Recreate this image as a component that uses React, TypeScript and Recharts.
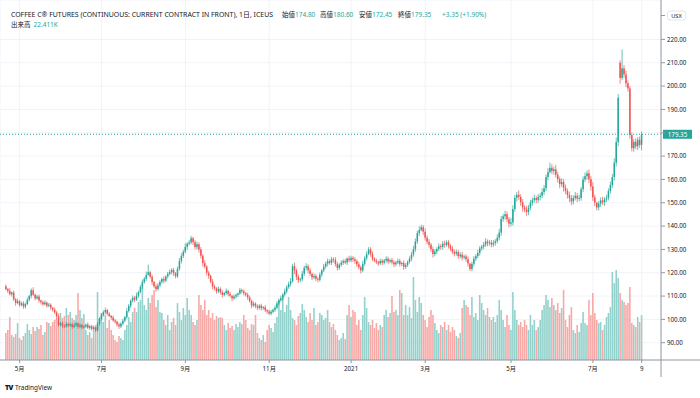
import { Bar, CartesianGrid, ComposedChart, ReferenceLine, XAxis, YAxis } from "recharts"

const UP = "#26a69a"
const DOWN = "#ef5350"
const UP_VOL = "#93d2cc"
const DOWN_VOL = "#f7a9a7"
const GRID = "#f0f3fa"
const AXIS = "#9598a1"
const TEXT = "#131722"
const FONT = "'Noto Sans', 'Noto Sans CJK JP', sans-serif"

// daily closes, front month coffee, 22 Apr 2020 -> 9 Aug 2021
const closes = [
  113.0, 112.2, 110.8, 111.5, 108.6, 107.0, 107.8, 106.2, 106.9, 105.5,
  106.6, 108.4, 110.1, 112.5, 110.6, 109.0, 109.8, 108.1, 107.4, 106.5,
  107.2, 105.8, 106.3, 105.0, 104.2, 103.0, 101.3, 97.6, 98.4, 97.2,
  97.0, 98.1, 97.4, 98.0, 96.8, 97.5, 98.3, 96.9, 97.6, 96.5,
  96.9, 97.8, 96.4, 97.1, 95.9, 96.6, 95.3, 97.9, 100.2, 101.8,
  103.1, 104.0, 102.4, 101.5, 100.8, 99.6, 99.0, 97.8, 97.0, 98.2,
  99.4, 101.0, 103.6, 105.8, 108.0, 109.3, 108.5, 110.2, 111.8, 113.9,
  116.0, 117.4, 119.1, 120.2, 118.3, 116.0, 114.2, 113.0, 114.6, 116.1,
  117.3, 116.6, 118.4, 119.5, 120.3, 121.2, 119.8, 118.5, 121.6, 125.0,
  127.2, 129.0, 131.1, 132.4, 133.0, 134.8, 133.1, 131.0, 132.2, 130.0,
  127.3, 124.1, 122.6, 120.0, 118.7, 116.2, 114.1, 113.3, 112.0, 113.1,
  111.6, 110.5, 111.3, 112.2, 110.9, 110.1, 109.0, 109.8, 110.4, 111.1,
  112.6, 112.0, 111.2, 110.5, 109.5, 107.9, 106.0, 106.8, 105.7, 105.0,
  105.9, 104.8, 105.2, 104.0, 103.4, 102.5, 103.3, 104.1, 105.0, 106.9,
  108.2, 109.1, 110.6, 112.0, 113.8, 115.2, 116.3, 122.8, 121.0, 118.2,
  116.8, 117.2, 119.6, 122.1, 122.8, 121.0, 119.5, 118.0, 118.6, 117.4,
  117.0, 119.2, 121.0, 122.6, 123.9, 125.0, 124.2, 125.8, 125.5, 123.7,
  122.1, 123.4, 124.3, 125.0, 124.4, 126.1, 125.3, 126.4, 125.7, 125.0,
  123.6, 122.3, 121.0, 123.8, 126.2, 128.0, 130.0, 128.1, 126.0, 125.2,
  124.6, 124.0, 125.1, 124.3, 125.2, 126.0, 124.8, 125.4, 124.5, 123.6,
  124.4, 125.1, 123.7, 124.2, 122.5, 123.3, 124.6, 126.0, 127.8, 130.1,
  133.4, 137.0, 138.3, 139.5, 137.6, 135.0, 133.2, 132.0, 130.1, 128.0,
  129.1, 130.2, 131.4, 131.0, 132.5, 132.0, 133.1, 131.6, 130.3, 129.0,
  128.2, 128.9, 127.1, 127.8, 126.5, 127.0, 125.8, 124.0, 121.6, 123.8,
  126.0, 127.1, 128.5, 130.4, 131.2, 132.0, 133.4, 132.6, 133.0, 132.1,
  132.8, 133.5, 135.0, 137.2, 143.0, 144.2, 145.1, 142.9, 141.0, 141.6,
  147.3, 152.1, 153.4, 152.5, 150.2, 148.0, 147.1, 146.0, 147.9, 150.0,
  151.1, 152.0, 151.2, 152.4, 153.0, 154.6, 156.2, 161.0, 163.1, 165.0,
  163.6, 164.3, 162.0, 160.1, 158.0, 158.9, 156.4, 155.0, 153.3, 152.0,
  150.6, 152.1, 153.0, 151.8, 152.0, 155.8, 160.0, 161.4, 162.6, 160.1,
  157.0, 152.3, 150.1, 148.0, 149.6, 151.0, 150.2, 151.4, 152.0, 155.0,
  157.6, 161.0, 167.2, 176.0, 195.0, 203.5, 207.6, 205.0, 201.2, 199.0,
  179.0, 173.4, 176.1, 174.2, 177.0, 174.8, 179.35,
]

// how far each day's high went above the body
const upperWicks = [
  0.8, 0.5, 1.2, 0.4, 0.9, 0.6, 1.1, 0.5, 0.7, 0.9,
  0.6, 1.0, 0.4, 0.8, 1.3, 0.5, 0.7, 0.9, 0.4, 0.6,
  1.0, 0.5, 0.8, 0.6, 0.4, 0.9, 0.7, 1.2, 0.5, 0.8,
  0.6, 0.9, 0.4, 0.7, 0.5, 1.0, 0.6, 0.4, 0.8, 0.5,
  0.7, 0.4, 0.9, 0.5, 0.6, 0.8, 0.4, 1.0, 0.7, 0.9,
  0.8, 1.1, 0.5, 0.7, 0.4, 0.9, 0.6, 0.5, 0.8, 0.6,
  0.9, 0.5, 1.2, 0.8, 0.6, 1.0, 0.7, 1.3, 0.5, 0.9,
  1.1, 0.8, 1.4, 2.1, 0.6, 0.9, 0.5, 0.8, 1.0, 0.7,
  0.6, 1.2, 0.5, 0.9, 1.1, 0.7, 0.8, 0.5, 1.0, 1.3,
  1.2, 0.8, 1.5, 0.7, 1.0, 1.1, 0.6, 0.9, 1.2, 0.8,
  1.0, 0.7, 1.3, 0.6, 0.9, 0.5, 1.1, 0.8, 0.6, 1.0,
  0.7, 0.9, 0.5, 1.1, 0.6, 0.8, 0.4, 0.9, 0.7, 0.5,
  0.9, 0.6, 0.8, 0.5, 1.0, 0.7, 0.6, 0.9, 0.5, 0.8,
  0.6, 0.8, 0.5, 0.9, 0.4, 0.7, 0.8, 0.6, 1.0, 0.9,
  0.8, 1.1, 0.7, 1.2, 0.9, 1.0, 1.4, 1.0, 1.5, 0.8,
  1.1, 0.7, 1.2, 0.9, 1.3, 0.8, 1.0, 0.6, 1.1, 0.9,
  0.8, 1.0, 0.6, 1.2, 0.9, 1.1, 0.7, 1.0, 0.8, 1.2,
  0.9, 0.7, 1.1, 0.8, 1.0, 0.6, 1.2, 0.9, 0.7, 1.0,
  0.8, 1.1, 0.7, 1.3, 1.0, 1.2, 1.0, 0.9, 1.1, 0.7,
  0.9, 0.6, 1.0, 0.8, 0.7, 1.1, 0.9, 0.6, 1.0, 0.8,
  0.7, 1.0, 0.9, 0.6, 1.1, 0.8, 0.7, 1.0, 1.2, 1.4,
  1.3, 1.0, 1.6, 1.1, 0.9, 1.4, 1.0, 1.2, 0.8, 1.1,
  1.0, 0.8, 1.2, 0.9, 1.1, 1.3, 0.8, 1.0, 0.7, 1.2,
  0.9, 1.1, 0.8, 1.0, 1.2, 0.7, 0.9, 1.1, 0.8, 1.0,
  1.1, 0.9, 1.3, 1.0, 0.8, 1.2, 1.4, 0.9, 1.1, 1.0,
  1.2, 0.9, 1.4, 1.6, 1.3, 1.1, 1.5, 1.2, 1.0, 1.8,
  1.6, 1.3, 1.2, 1.9, 1.1, 1.4, 1.0, 1.5, 1.2, 1.3,
  1.1, 1.5, 1.0, 1.3, 1.2, 1.6, 1.4, 1.1, 1.7, 1.3,
  1.5, 1.2, 1.8, 1.3, 1.1, 1.6, 1.2, 1.4, 1.0, 1.5,
  1.3, 1.1, 1.6, 1.2, 1.4, 1.0, 1.3, 1.5, 1.2, 1.7,
  1.4, 1.8, 1.2, 1.5, 1.1, 1.3, 1.6, 1.0, 1.4, 1.2,
  1.5, 1.3, 1.8, 2.0, 1.6, 0, 0, 1.4, 1.6, 1.2,
  0, 0, 1.2, 1.5, 1.1, 1.4, 0,
]

// how far each day's low went below the body
const lowerWicks = [
  0.6, 0.9, 0.5, 1.0, 0.7, 1.2, 0.5, 0.8, 0.6, 1.0,
  0.9, 0.5, 0.7, 1.1, 0.6, 0.8, 0.5, 0.9, 1.0, 0.7,
  0.5, 0.8, 0.6, 1.0, 0.9, 0.7, 1.3, 0.8, 0.6, 0.9,
  0.7, 0.5, 0.8, 0.6, 0.9, 0.5, 0.7, 1.0, 0.6, 0.8,
  0.5, 0.8, 0.6, 0.9, 0.7, 0.5, 1.0, 0.6, 0.5, 0.7,
  0.6, 0.9, 0.7, 0.5, 1.0, 0.6, 0.8, 0.9, 1.1, 0.7,
  0.8, 0.6, 0.9, 0.7, 1.0, 0.8, 1.2, 0.6, 0.9, 0.7,
  1.0, 0.7, 0.9, 1.2, 0.8, 1.3, 0.9, 1.1, 0.7, 0.9,
  0.8, 1.1, 0.7, 0.9, 0.6, 1.0, 1.2, 0.9, 0.8, 0.7,
  1.0, 0.9, 0.7, 1.2, 0.8, 1.0, 1.3, 0.9, 1.1, 1.4,
  1.2, 1.5, 0.9, 1.1, 1.3, 0.8, 1.2, 0.9, 1.0, 0.7,
  0.9, 1.1, 0.6, 0.8, 1.0, 0.7, 1.2, 0.6, 0.9, 0.8,
  0.6, 0.9, 1.0, 0.7, 1.1, 0.8, 1.2, 0.7, 0.9, 1.0,
  0.8, 1.0, 0.7, 0.9, 1.1, 0.6, 0.8, 0.7, 0.9, 0.6,
  0.9, 0.7, 1.0, 0.8, 0.9, 0.7, 1.1, 0.9, 1.6, 1.3,
  1.2, 0.9, 0.8, 1.0, 1.1, 1.3, 0.9, 1.2, 0.8, 1.0,
  1.1, 0.8, 1.0, 0.7, 0.9, 1.2, 0.8, 0.9, 1.1, 1.0,
  1.2, 0.9, 0.8, 1.0, 0.7, 1.1, 0.9, 0.8, 1.0, 1.2,
  1.1, 0.9, 1.3, 0.8, 1.0, 0.9, 1.1, 1.2, 1.0, 0.8,
  0.9, 1.1, 0.7, 1.0, 0.8, 0.9, 1.1, 0.8, 1.0, 1.2,
  0.9, 0.7, 1.1, 0.8, 1.3, 0.9, 0.8, 0.7, 1.0, 0.9,
  1.2, 1.0, 1.3, 1.1, 1.4, 1.2, 1.0, 1.3, 1.1, 1.5,
  1.0, 1.2, 0.9, 1.1, 1.0, 1.3, 0.9, 1.2, 1.0, 1.1,
  1.2, 0.9, 1.1, 1.0, 1.3, 0.8, 1.1, 1.4, 0, 1.0,
  1.1, 1.0, 0.9, 1.2, 1.0, 1.1, 0.9, 1.3, 1.0, 1.2,
  1.0, 1.2, 0.9, 1.1, 1.4, 1.2, 1.5, 1.3, 1.6, 1.1,
  1.4, 1.2, 1.6, 1.3, 1.5, 1.8, 1.2, 1.6, 1.3, 1.1,
  1.3, 1.1, 1.5, 1.2, 1.4, 1.0, 1.3, 1.2, 1.4, 1.1,
  1.2, 1.6, 1.3, 1.5, 1.8, 1.2, 1.6, 1.3, 1.5, 1.7,
  1.6, 1.3, 1.1, 1.5, 1.2, 1.1, 1.3, 1.2, 1.5, 1.6,
  1.8, 1.5, 1.6, 1.2, 1.3, 1.4, 1.2, 1.5, 1.1, 1.0,
  1.1, 1.3, 1.4, 1.6, 1.8, 0, 0, 1.5, 1.7, 1.4,
  0, 0, 1.5, 1.2, 1.6, 1.3, 0,
]

// daily volume, thousands of contracts
const volumes = [
  13.5, 15, 21.5, 12.5, 11.5, 13, 18.5, 11, 10, 12,
  13.5, 18, 15, 13, 16.5, 14.5, 16.5, 15.5, 17.5, 12.5,
  14, 19, 18.5, 17, 19, 20, 20.5, 19, 23.5, 21,
  22, 26, 22.5, 24, 21, 20, 22.5, 33.5, 25, 21,
  23, 15, 12.5, 14, 11, 15, 17.5, 34, 21, 23.5,
  19, 22.5, 16, 20, 15, 12.5, 10, 9, 12, 11,
  10, 15, 17.5, 21.5, 19, 24, 26, 24, 29, 30,
  36.5, 27.5, 25, 31, 28.5, 32.5, 35, 26.5, 30, 24,
  23.5, 20, 17.5, 22.5, 15, 19, 21, 17.5, 28.5, 24,
  20, 26, 22.5, 31, 25, 22.5, 19, 17.5, 20, 32.5,
  27.5, 25, 30, 22.5, 25, 21, 23.5, 20, 22, 21,
  21.5, 21, 17.5, 15, 18.5, 16, 17, 15, 18, 16.5,
  19, 18, 22.5, 20, 16, 15, 18, 17.5, 22.5, 13.5,
  11, 10, 12.5, 9, 15, 17.5, 16, 14, 18.5, 21.5,
  30, 25, 32.5, 24, 27.5, 31.5, 25, 21, 20, 17.5,
  22, 23.5, 28, 25, 21.5, 19, 23.5, 20, 26, 17.5,
  19, 23.5, 22.5, 20, 21, 25, 19, 16.5, 18, 15,
  12.5, 10, 11, 13.5, 10.5, 22.5, 27.5, 21.5, 25, 24,
  17.5, 20, 15, 22.5, 31.5, 26, 19, 17.5, 20, 16,
  18.5, 15, 17.5, 16.5, 22.5, 25, 21.5, 23.5, 32, 24,
  25, 22.5, 35, 33.5, 22.5, 27.5, 22.5, 26.5, 21, 41.5,
  30, 24, 31.5, 28.5, 22.5, 20, 16.5, 21.5, 25, 22.5,
  18.5, 15, 13.5, 17.5, 16.5, 19, 15, 17.5, 14, 16.5,
  15, 12, 11, 13.5, 26, 30, 27.5, 26.5, 22.5, 31.5,
  21.5, 23.5, 20, 32.5, 28.5, 25, 22.5, 26, 21.5, 20,
  21.5, 19, 22.5, 30, 25, 20, 16.5, 22.5, 17.5, 15,
  34, 25, 20, 17.5, 19, 16.5, 20, 17.5, 15, 22.5,
  17.5, 20, 15, 16.5, 20, 25, 27.5, 32.5, 30, 26.5,
  31, 27.5, 25, 28.5, 23.5, 26, 35, 20, 16.5, 22.5,
  26.5, 15, 13.5, 17.5, 14, 18.5, 24, 18.5, 17.5, 30,
  22.5, 33.5, 23.5, 20, 18.5, 19, 15, 17.5, 21.5, 23.5,
  26.5, 44, 38.5, 45, 41, 33.5, 30, 29, 27.5, 28.5,
  36.5, 18.5, 17.5, 16.5, 21.5, 19, 22.411,
]

// opens that gap away from the previous close
const gapOpens: Record<number, number> = { 0: 114.2, 315: 210.0 }

// notable intraday extremes [high, low]
const wicks: Record<number, [number, number]> = {
  46: [96.5, 94.7],
  73: [123.5, 118.8],
  95: [135.8, 132.2],
  147: [123.8, 115.8],
  186: [131.0, 127.5],
  213: [140.6, 137.8],
  238: [123.6, 120.8],
  279: [167.2, 162.5],
  303: [149.8, 146.8],
  315: [211.0, 201.0],
  316: [215.7, 202.5],
  320: [200.0, 177.5],
  321: [180.0, 172.0],
  326: [180.6, 172.45],
}

const monthTicks = [7, 49, 92, 135, 177, 215, 259, 301, 326]
const monthLabels = ["5月", "7月", "9月", "11月", "2021", "3月", "5月", "7月", "9"]
const priceTicks = [90, 100, 110, 120, 130, 140, 150, 160, 170, 180, 190, 200, 210, 220]
const lastPrice = 179.35

const title = "COFFEE C® FUTURES (CONTINUOUS: CURRENT CONTRACT IN FRONT), 1日, ICEUS"
const quoteLabels = ["始値", "高値", "安値", "終値"]
const quoteValues = ["174.80", "180.60", "172.45", "179.35"]
const quoteChange = "+3.35 (+1.90%)"
const volumeLabel = "出来高"
const volumeValue = "22.411K"

const candles = closes.map((close, i) => {
  const open = gapOpens[i] ?? (i === 0 ? close : closes[i - 1])
  const w = wicks[i]
  return {
    idx: i,
    open,
    close,
    high: w ? Math.max(w[0], open, close) : Math.max(open, close) + upperWicks[i],
    low: w ? Math.min(w[1], open, close) : Math.min(open, close) - lowerWicks[i],
    volume: volumes[i],
  }
})

// the price tag covers the 180 label, as on the original
const priceLabel = (v: number) => (v === 180 ? "" : v.toFixed(2))
const tickLabel = (v: number) => monthLabels[monthTicks.indexOf(v)] ?? ""

function CandleShape(props: any) {
  const { x, y, width, height, payload } = props
  if (x == null || y == null || !payload) return null
  const { open, close, high, low } = payload
  const color = close >= open ? UP : DOWN
  const cx = x + width / 2
  const k = high > low ? height / (high - low) : 0
  const top = y + (high - Math.max(open, close)) * k
  const bottom = y + (high - Math.min(open, close)) * k
  return (
    <g>
      <line x1={cx} x2={cx} y1={y} y2={y + height} stroke={color} strokeWidth={0.7} />
      <rect x={cx - 0.75} y={top} width={1.5} height={Math.max(0.8, bottom - top)} fill={color} />
    </g>
  )
}

function VolumeShape(props: any) {
  const { x, y, width, height, payload } = props
  if (x == null || y == null || !payload) return null
  const cx = x + width / 2
  return (
    <rect
      x={cx - 0.8}
      y={y}
      width={1.6}
      height={Math.max(0, height)}
      fill={payload.close >= payload.open ? UP_VOL : DOWN_VOL}
    />
  )
}

function PriceTag(props: any) {
  const { viewBox } = props
  if (!viewBox) return null
  const x = viewBox.x + viewBox.width + 2
  const y = viewBox.y
  return (
    <g>
      <rect x={x} y={y - 4.5} width={29} height={9} fill={UP} />
      <text x={x + 14.5} y={y} dy="0.36em" textAnchor="middle" fontSize={6.2} fill="#fff" fontFamily={FONT}>
        {lastPrice.toFixed(2)}
      </text>
    </g>
  )
}

export default function App() {
  const quoteX = [282, 320, 359, 398]
  return (
    <div style={{ position: "fixed", left: 0, top: 0, width: 700, height: 398, background: "#fff", fontFamily: FONT }}>
      <ComposedChart width={700} height={398} data={candles} margin={{ top: 0, right: 0, bottom: 18, left: 0 }}>
        <CartesianGrid xAxisId="p" yAxisId="price" stroke={GRID} />
        <XAxis
          xAxisId="p"
          dataKey="idx"
          type="category"
          ticks={monthTicks}
          interval={0}
          tickFormatter={tickLabel}
          padding={{ left: 5, right: 18.35 }}
          height={20}
          tickSize={3}
          tickMargin={4}
          axisLine={{ stroke: AXIS }}
          tickLine={{ stroke: AXIS }}
          tick={{ fontSize: 6.2, fill: TEXT, fontFamily: FONT }}
        />
        <XAxis xAxisId="v" dataKey="idx" type="category" hide height={0} padding={{ left: 5, right: 18.35 }} />
        <XAxis xAxisId="full" type="number" domain={[0, 1]} hide height={0} />
        <YAxis
          yAxisId="price"
          orientation="right"
          width={39}
          domain={[82.6, 236.9]}
          ticks={priceTicks}
          interval={0}
          allowDataOverflow
          tickFormatter={priceLabel}
          tickSize={4}
          tickMargin={2}
          axisLine={{ stroke: AXIS }}
          tickLine={{ stroke: AXIS }}
          tick={{ fontSize: 6.2, fill: TEXT, fontFamily: FONT }}
        />
        <YAxis yAxisId="vol" hide width={0} domain={[0, 180]} allowDataOverflow />
        <Bar
          xAxisId="v"
          yAxisId="vol"
          dataKey="volume"
          barSize={1.95}
          shape={<VolumeShape />}
          isAnimationActive={false}
        />
        <ReferenceLine
          xAxisId="full"
          yAxisId="price"
          y={lastPrice}
          stroke={UP}
          strokeDasharray="1 2"
          label={<PriceTag />}
        />
        <Bar
          xAxisId="p"
          yAxisId="price"
          dataKey={(d: any) => [d.low, d.high]}
          barSize={1.95}
          shape={<CandleShape />}
          isAnimationActive={false}
        />
      </ComposedChart>

      <svg width={700} height={398} style={{ position: "absolute", left: 0, top: 0, pointerEvents: "none" }}>
        <g fontFamily={FONT}>
          <text x={11} y={17} fontSize={6.5} fill={TEXT} textLength={262} lengthAdjust="spacingAndGlyphs">
            {title}
          </text>
          {quoteLabels.map((label, i) => (
            <text key={label} x={quoteX[i]} y={17} fontSize={6.5}>
              <tspan fill={TEXT}>{label}</tspan>
              <tspan fill={UP}>{quoteValues[i]}</tspan>
            </text>
          ))}
          <text x={442} y={17} fontSize={6.5} fill={UP}>
            {quoteChange}
          </text>
          <text x={11} y={27} fontSize={6.5}>
            <tspan fill={TEXT}>{volumeLabel}</tspan>
            <tspan fill={UP} dx={3}>
              {volumeValue}
            </tspan>
          </text>

          <line x1={661} x2={700} y1={360} y2={360} stroke={AXIS} />
          <line x1={661} x2={661} y1={360} y2={377} stroke={AXIS} />

          <line x1={661} x2={665} y1={15.5} y2={15.5} stroke={AXIS} />
          <rect x={667.5} y={11} width={18} height={9} rx={2.5} fill="#fff" stroke="#d1d4dc" strokeWidth={0.6} />
          <text x={676.5} y={15.5} dy="0.36em" textAnchor="middle" fontSize={5.6} fill={TEXT}>
            USX
          </text>

          <text x={5} y={390} fontSize={7} fontWeight={900} fill={TEXT} letterSpacing={-0.6}>
            TV
          </text>
          <text x={15} y={390} fontSize={6.6} fill={TEXT} textLength={37} lengthAdjust="spacingAndGlyphs">
            TradingView
          </text>
        </g>
      </svg>
    </div>
  )
}
